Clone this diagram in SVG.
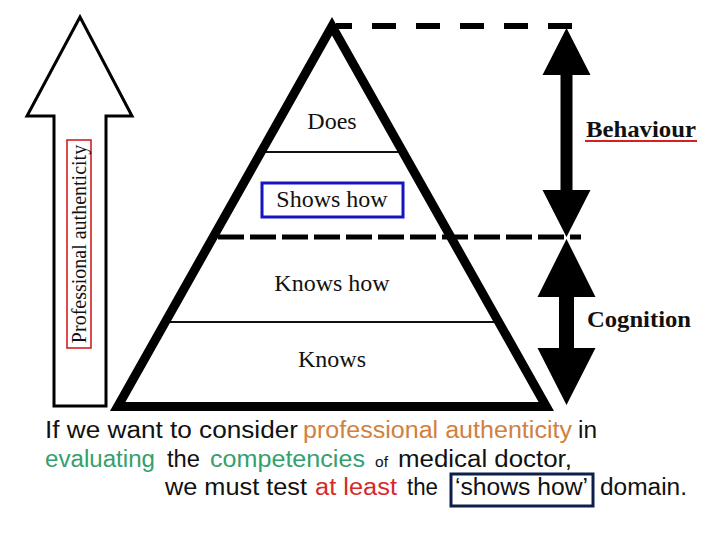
<svg xmlns="http://www.w3.org/2000/svg" width="720" height="540" viewBox="0 0 720 540">
<defs>
<style>
.serif{font-family:"Liberation Serif","Times New Roman",serif;fill:#111}
.lbl{font-size:24px;text-anchor:middle}
.bold{font-size:24px;font-weight:bold}
.cap{font-family:"Liberation Sans",Arial,sans-serif;font-size:23px;fill:#111}
.thin{stroke:#111;stroke-width:2.2}
.dash{stroke:#000;fill:none}
.blk{fill:#000}
</style>
</defs>
<rect width="720" height="540" fill="#fff"/>

<g id="professional-arrow">
<polygon points="80,17 132,116 106,116 106,406 54,406 54,116 27,116" fill="#fff" stroke="#000" stroke-width="3" stroke-linejoin="miter"/>
<rect x="67" y="140" width="24" height="208" fill="none" stroke="#d42020" stroke-width="1.6"/>
<text class="serif" font-size="20" text-anchor="middle" transform="translate(86,244) rotate(-90)">Professional authenticity</text>
</g>

<g id="connectors">
<line class="dash" x1="572" y1="26" x2="336" y2="26" stroke-width="6" stroke-dasharray="24 20"/>
<line class="dash" x1="218" y1="237" x2="581" y2="237" stroke-width="5" stroke-dasharray="26 6"/>
<polygon id="behaviour-arrow" class="blk" points="566.5,28 590.5,75 572.5,75 572.5,190 590.5,190 566.5,237 542.5,190 560.5,190 560.5,75 542.5,75"/>
<polygon id="cognition-arrow" class="blk" points="566.5,239 595.5,297 574,297 574,348 595.5,348 566.5,405 537.5,348 559,348 559,297 537.5,297"/>
</g>

<g id="pyramid">
<line class="thin" x1="262" y1="152" x2="402" y2="152"/>
<line class="thin" x1="165" y1="322" x2="499" y2="322"/>
<polygon points="332,26.2 546.3,406.5 117.7,406.5" fill="none" stroke="#000" stroke-width="9" stroke-linejoin="miter" stroke-miterlimit="10"/>
</g>

<g id="does"><text class="serif lbl" x="332" y="129">Does</text></g>
<g id="shows-how">
<rect x="262" y="183" width="141" height="34" fill="none" stroke="#1515c0" stroke-width="3"/>
<text class="serif lbl" x="332" y="207">Shows how</text>
</g>
<g id="knows-how"><text class="serif lbl" x="332" y="291">Knows how</text></g>
<g id="knows"><text class="serif lbl" x="332" y="367">Knows</text></g>

<g id="behaviour">
<text class="serif bold" x="586" y="137" textLength="110" lengthAdjust="spacingAndGlyphs">Behaviour</text>
<line x1="585" y1="141" x2="697" y2="141" stroke="#d42020" stroke-width="2"/>
</g>
<g id="cognition">
<text class="serif bold" x="587" y="327" textLength="104" lengthAdjust="spacingAndGlyphs">Cognition</text>
</g>

<g id="caption">
<text class="cap" x="45" y="438" textLength="253" lengthAdjust="spacingAndGlyphs">If we want to consider</text>
<text class="cap" x="303" y="438" textLength="269" lengthAdjust="spacingAndGlyphs" fill="#d0813e" style="fill:#d0813e">professional authenticity</text>
<text class="cap" x="578" y="438" textLength="19" lengthAdjust="spacingAndGlyphs">in</text>

<text class="cap" x="45" y="467" textLength="110" lengthAdjust="spacingAndGlyphs" style="fill:#34a06c">evaluating</text>
<text class="cap" x="167" y="467" textLength="33" lengthAdjust="spacingAndGlyphs">the</text>
<text class="cap" x="210" y="467" textLength="155" lengthAdjust="spacingAndGlyphs" style="fill:#34a06c">competencies</text>
<text class="cap" x="375" y="467" font-size="14" style="font-size:14px" textLength="13" lengthAdjust="spacingAndGlyphs">of</text>
<text class="cap" x="398" y="467" textLength="174" lengthAdjust="spacingAndGlyphs">medical doctor,</text>

<text class="cap" x="165" y="495" textLength="142" lengthAdjust="spacingAndGlyphs">we must test</text>
<text class="cap" x="315" y="495" textLength="82" lengthAdjust="spacingAndGlyphs" style="fill:#d42a2a">at least</text>
<text class="cap" x="407" y="495" textLength="31" lengthAdjust="spacingAndGlyphs">the</text>
<rect x="451" y="474" width="142" height="32" fill="none" stroke="#0d1f4a" stroke-width="3"/>
<text class="cap" x="455" y="495" textLength="133" lengthAdjust="spacingAndGlyphs">‘shows how’</text>
<text class="cap" x="600" y="495" textLength="87" lengthAdjust="spacingAndGlyphs">domain.</text>
</g>
</svg>
